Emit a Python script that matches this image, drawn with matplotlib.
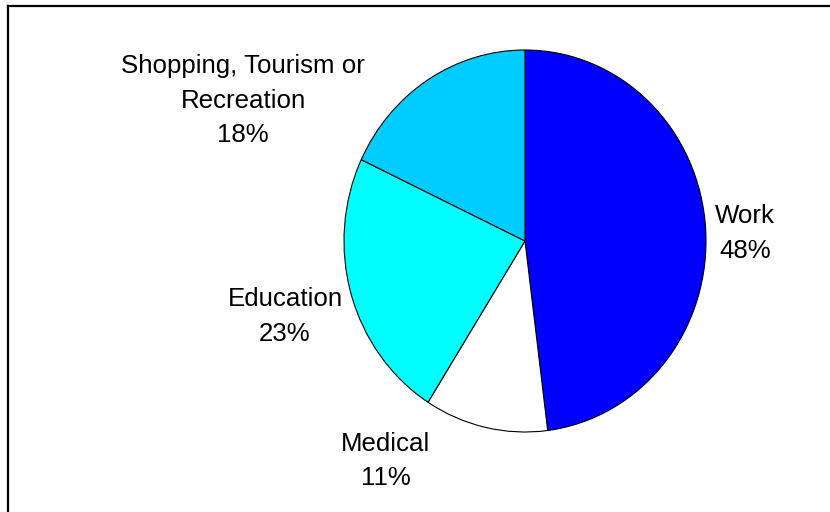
import matplotlib.pyplot as plt
from matplotlib.lines import Line2D

plt.rcParams['font.family'] = ['Liberation Sans', 'DejaVu Sans']

# trip purpose shares
categories = ['Work', 'Medical', 'Education', 'Shopping, Tourism or\nRecreation']
shares = [48, 11, 23, 18]
colors = ['#0000FF', '#FFFFFF', '#00FFFF', '#00CCFF']

# label anchors in pie units (x per horizontal radius, y per vertical radius)
label_pos = [(1.215, 0.040), (-0.771, -1.152), (-1.326, -0.395), (-1.558, 0.735)]

W, H = 830, 512
fig = plt.figure(figsize=(W / 100, H / 100), dpi=100)

# axes box spans exactly the pie (slightly taller than wide)
ax = fig.add_axes([344 / W, 80 / H, 362 / W, 382 / H])
ax.pie(shares, colors=colors, startangle=90, counterclock=False, radius=1,
       wedgeprops=dict(edgecolor='black', linewidth=0.8))
ax.set_aspect('auto')
ax.set_xlim(-1, 1)
ax.set_ylim(-1, 1)
ax.axis('off')

total = sum(shares)
for name, val, (x, y) in zip(categories, shares, label_pos):
    ax.text(x, y, f'{name}\n{round(100 * val / total)}%', ha='center', va='center',
            fontsize=18.6, linespacing=1.56, color='black')

# outer frame, left and top edges only
fig.add_artist(Line2D([8 / W, 8 / W], [0, 1 - 6 / H], color='black', lw=1.6,
                      transform=fig.transFigure))
fig.add_artist(Line2D([8 / W, 1], [1 - 6 / H, 1 - 6 / H], color='black', lw=1.6,
                      transform=fig.transFigure))

fig.savefig('out.png', dpi=100)
